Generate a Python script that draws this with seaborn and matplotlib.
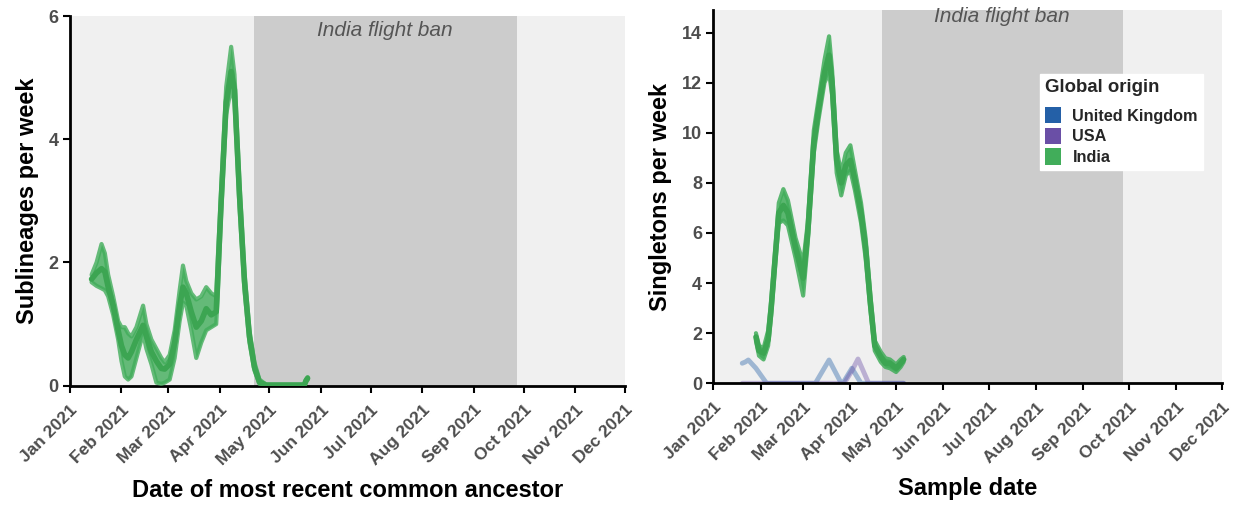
import pandas as pd
import matplotlib.pyplot as plt
import matplotlib.dates as mdates
from matplotlib.patches import Patch
import seaborn as sns

# left panel: sublineages per week (India), TMRCA date
sub_dates = ["2021-01-14", "2021-01-17", "2021-01-20", "2021-01-22", "2021-01-24", "2021-01-27",
             "2021-01-30", "2021-02-01", "2021-02-03", "2021-02-05", "2021-02-07", "2021-02-10",
             "2021-02-14", "2021-02-16", "2021-02-19", "2021-02-22", "2021-02-25", "2021-02-27",
             "2021-03-02", "2021-03-05", "2021-03-08", "2021-03-10", "2021-03-12", "2021-03-15",
             "2021-03-18", "2021-03-21", "2021-03-24", "2021-03-27", "2021-03-30", "2021-03-31",
             "2021-04-02", "2021-04-05", "2021-04-08", "2021-04-10", "2021-04-13", "2021-04-16",
             "2021-04-19", "2021-04-22", "2021-04-25", "2021-04-29", "2021-05-22", "2021-05-23",
             "2021-05-24"]
sub_mean = [1.73, 1.83, 1.9, 1.85, 1.6, 1.3, 0.9, 0.65, 0.5, 0.45, 0.55, 0.75, 0.98, 0.8, 0.55,
            0.4, 0.28, 0.27, 0.35, 0.7, 1.3, 1.6, 1.5, 1.2, 0.95, 1.05, 1.25, 1.15, 1.2, 1.8,
            3.0, 4.6, 5.1, 4.8, 3.1, 1.7, 0.8, 0.3, 0.06, 0.01, 0.01, 0.08, 0.12]
sub_lo = [1.68, 1.62, 1.58, 1.55, 1.45, 1.15, 0.75, 0.4, 0.15, 0.1, 0.15, 0.45, 0.85, 0.6, 0.35,
          0.05, 0.03, 0.05, 0.1, 0.45, 1.05, 1.35, 1.3, 0.9, 0.45, 0.7, 0.9, 0.95, 1.0, 1.5,
          2.8, 4.4, 4.85, 4.6, 2.9, 1.55, 0.7, 0.25, 0.03, 0.0, 0.0, 0.06, 0.1]
sub_hi = [1.8, 2.0, 2.3, 2.15, 1.8, 1.45, 1.05, 0.95, 0.95, 0.85, 0.8, 0.95, 1.3, 1.0, 0.75,
          0.6, 0.45, 0.38, 0.5, 0.9, 1.55, 1.95, 1.7, 1.5, 1.4, 1.45, 1.6, 1.5, 1.45, 2.1,
          3.2, 4.85, 5.5, 5.05, 3.3, 1.85, 0.9, 0.38, 0.1, 0.02, 0.02, 0.1, 0.14]

# right panel: singletons per week by global origin, sample date
ind_dates = ["2021-01-29", "2021-01-31", "2021-02-03", "2021-02-06", "2021-02-08", "2021-02-11",
             "2021-02-13", "2021-02-16", "2021-02-19", "2021-02-24", "2021-03-01", "2021-03-04",
             "2021-03-08", "2021-03-11", "2021-03-15", "2021-03-18", "2021-03-20", "2021-03-23",
             "2021-03-26", "2021-03-29", "2021-04-01", "2021-04-04", "2021-04-08", "2021-04-11",
             "2021-04-14", "2021-04-17", "2021-04-21", "2021-04-24", "2021-04-27", "2021-05-01",
             "2021-05-04", "2021-05-06"]
ind_mean = [1.85, 1.3, 1.2, 1.75, 3.0, 5.3, 6.8, 7.1, 6.8, 5.4, 4.2, 6.0, 9.6, 10.9, 12.4, 13.1,
            12.0, 8.9, 8.0, 8.7, 8.9, 8.1, 6.8, 5.4, 3.3, 1.5, 1.05, 0.8, 0.8, 0.6, 0.8, 0.95]
ind_lo = [1.7, 1.1, 0.95, 1.5, 2.7, 5.0, 6.4, 6.5, 6.3, 5.0, 3.5, 5.6, 9.2, 10.5, 12.0, 12.4,
          11.5, 8.4, 7.5, 8.3, 8.5, 7.7, 6.4, 5.0, 3.0, 1.3, 0.85, 0.65, 0.6, 0.45, 0.65, 0.85]
ind_hi = [2.0, 1.5, 1.4, 2.1, 3.3, 5.6, 7.2, 7.75, 7.3, 5.8, 4.8, 6.4, 10.1, 11.3, 12.9, 13.85,
          12.5, 9.3, 8.4, 9.2, 9.5, 8.5, 7.2, 5.8, 3.6, 1.7, 1.25, 1.0, 0.95, 0.75, 0.95, 1.05]

uk_dates = ["2021-01-20", "2021-01-22", "2021-01-24", "2021-01-29", "2021-02-05", "2021-03-09",
            "2021-03-18", "2021-03-26", "2021-03-27", "2021-04-02", "2021-04-08", "2021-05-06"]
uk_vals = [0.8, 0.85, 0.93, 0.6, 0.0, 0.0, 0.93, 0.0, 0.0, 0.6, 0.0, 0.0]

usa_dates = ["2021-01-20", "2021-03-28", "2021-04-02", "2021-04-06", "2021-04-13", "2021-05-06"]
usa_vals = [0.0, 0.0, 0.5, 0.97, 0.0, 0.0]

origins = ["United Kingdom", "USA", "India"]
origin_colors = ["#2460a7", "#6a4fa6", "#41ad5a"]
ban_start, ban_end = "2021-04-22", "2021-09-27"

sns.set_style("ticks")
plt.rcParams["font.family"] = ["Liberation Sans", "DejaVu Sans"]
plt.rcParams["font.weight"] = "bold"

fig = plt.figure(figsize=(12.36, 5.08), dpi=100)
ax1 = fig.add_axes([0.0566, 0.2407, 0.4491, 0.7278])
ax2 = fig.add_axes([0.5771, 0.2455, 0.4116, 0.7348])

green = origin_colors[2]

def style_axis(ax, ymax, yticks, xlabel, ylabel):
    ax.set_facecolor("#f0f0f0")
    ax.axvspan(pd.Timestamp(ban_start), pd.Timestamp(ban_end), color="#cccccc", lw=0, zorder=0)
    ax.set_xlim(pd.Timestamp("2021-01-01"), pd.Timestamp("2021-12-01"))
    ax.set_ylim(0, ymax)
    ax.set_yticks(yticks)
    ax.xaxis.set_major_locator(mdates.MonthLocator())
    ax.xaxis.set_major_formatter(mdates.DateFormatter("%b %Y"))
    for lab in ax.get_xticklabels():
        lab.set_rotation(45)
        lab.set_ha("right")
        lab.set_rotation_mode("anchor")
    ax.tick_params(axis="both", colors="black", labelcolor="#4d4d4d",
                   width=1.5, length=5)
    ax.tick_params(axis="x", labelsize=12.5, pad=7)
    ax.tick_params(axis="y", labelsize=13, pad=3)
    for lab in ax.get_xticklabels() + ax.get_yticklabels():
        lab.set_fontweight("bold")
    for s in ["top", "right"]:
        ax.spines[s].set_visible(False)
    for s in ["left", "bottom"]:
        ax.spines[s].set_linewidth(2)
        ax.spines[s].set_color("black")
    ax.set_xlabel(xlabel, fontsize=17, fontweight="bold", color="black", labelpad=8)
    ax.set_ylabel(ylabel, fontsize=17, fontweight="bold", color="black", labelpad=7)

# left panel
sub = pd.DataFrame({"date": pd.to_datetime(sub_dates), "mean": sub_mean, "lo": sub_lo, "hi": sub_hi})
ax1.fill_between(sub["date"], sub["lo"], sub["hi"], color=green, alpha=0.8, lw=0, zorder=2)
for col in ["lo", "hi"]:
    sns.lineplot(data=sub, x="date", y=col, ax=ax1, color=green, lw=3, alpha=0.8, zorder=3)
sns.lineplot(data=sub, x="date", y="mean", ax=ax1, color="#3ca552", lw=4, zorder=4)
style_axis(ax1, 6, [0, 2, 4, 6], "Date of most recent common ancestor", "Sublineages per week")
ax1.text(0.568, 0.96, "India flight ban", transform=ax1.transAxes, ha="center", va="center",
         fontsize=15, style="italic", fontweight="normal", color="#555555",
         family=["Liberation Sans", "DejaVu Sans"])

# right panel
uk = pd.DataFrame({"date": pd.to_datetime(uk_dates), "value": uk_vals, "origin": origins[0]})
usa = pd.DataFrame({"date": pd.to_datetime(usa_dates), "value": usa_vals, "origin": origins[1]})
minor = pd.concat([uk, usa])
sns.lineplot(data=minor, x="date", y="value", hue="origin", palette=dict(zip(origins[:2], origin_colors[:2])),
             ax=ax2, lw=3.5, alpha=0.4, legend=False, zorder=2)
ind = pd.DataFrame({"date": pd.to_datetime(ind_dates), "mean": ind_mean, "lo": ind_lo, "hi": ind_hi})
ax2.fill_between(ind["date"], ind["lo"], ind["hi"], color=green, alpha=0.85, lw=0, zorder=3)
for col in ["lo", "hi"]:
    sns.lineplot(data=ind, x="date", y=col, ax=ax2, color=green, lw=3, alpha=0.85, zorder=3)
sns.lineplot(data=ind, x="date", y="mean", ax=ax2, color="#3ca552", lw=4, zorder=4)
style_axis(ax2, 14.9, [0, 2, 4, 6, 8, 10, 12, 14], "Sample date", "Singletons per week")
ax2.text(0.567, 0.982, "India flight ban", transform=ax2.transAxes, ha="center", va="center",
         fontsize=15, style="italic", fontweight="normal", color="#555555",
         family=["Liberation Sans", "DejaVu Sans"])

handles = [Patch(facecolor=c, edgecolor="none") for c in origin_colors]
leg = ax2.legend(handles, origins, title="Global origin", loc="upper left",
                 bbox_to_anchor=(0.626, 0.85), frameon=True, fancybox=False, framealpha=1,
                 edgecolor="white", fontsize=11.7, title_fontsize=13.4,
                 handlelength=1.0, handleheight=1.15, handletextpad=0.7, labelspacing=0.25,
                 borderpad=0.3, alignment="left")
leg._legend_box.sep = 8
leg.get_title().set_fontweight("bold")
for t in leg.get_texts():
    t.set_fontweight("bold")

fig.savefig("out.png", dpi=100)
